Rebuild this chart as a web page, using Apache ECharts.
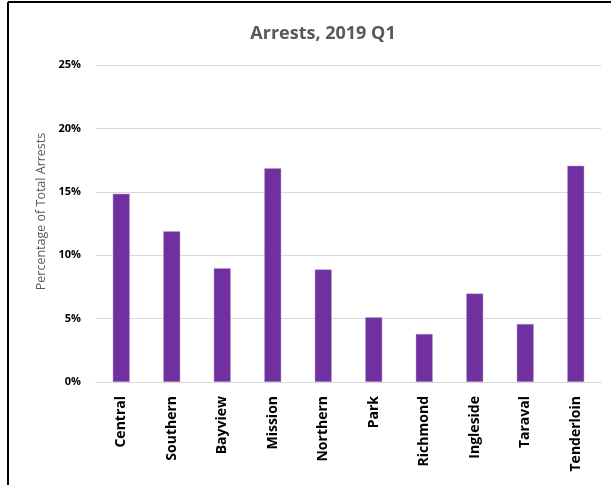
<!DOCTYPE html>
<html>
<head>
<meta charset="utf-8">
<script src="https://cdn.jsdelivr.net/npm/echarts@6/dist/echarts.min.js"></script>
<style>html,body{margin:0;padding:0;background:#fff;}#c{width:611px;height:485px;}</style>
</head>
<body>
<div id="c"></div>
<script>
var categories = ["Central","Southern","Bayview","Mission","Northern","Park","Richmond","Ingleside","Taraval","Tenderloin"];
var arrestsPct = [14.85, 11.88, 8.98, 16.86, 8.88, 5.11, 3.79, 6.98, 4.58, 17.06];
var titleText = "Arrests, 2019 Q1";
var yAxisName = "Percentage of Total Arrests";

var chart = echarts.init(document.getElementById('c'));
chart.setOption({
  animation: false,
  backgroundColor: '#fff',
  title: {
    text: titleText,
    left: 318, textAlign: 'center', top: 20,
    textStyle: {fontFamily: 'Open Sans', fontWeight: 'bold', fontSize: 18, color: '#595959'}
  },
  grid: {left: 96, right: 10, top: 65, bottom: 103, containLabel: false},
  xAxis: {
    type: 'category', data: categories,
    axisLine: {lineStyle: {color: '#d9d9d9', width: 1}},
    axisTick: {show: false},
    axisLabel: {rotate: 90, margin: 14, color: '#000', fontFamily: 'Open Sans', fontWeight: 'bold', fontSize: 14}
  },
  yAxis: {
    type: 'value', min: 0, max: 25, interval: 5,
    name: yAxisName, nameLocation: 'middle', nameGap: 48,
    nameTextStyle: {color: '#595959', fontFamily: 'Open Sans', fontSize: 12.5, padding: [0, 0, 0, 24]},
    axisLine: {show: false}, axisTick: {show: false},
    axisLabel: {formatter: '{value}%', color: '#000', fontFamily: 'Open Sans', fontWeight: 'bold', fontSize: 11, margin: 15},
    splitLine: {lineStyle: {color: '#d9d9d9', width: 1}}
  },
  series: [{
    type: 'bar', data: arrestsPct, barWidth: 17,
    itemStyle: {color: '#7030A0', borderColor: '#b9a0cf', borderWidth: 0.5}
  }],
  graphic: [
    {type: 'line', shape: {x1: 8, y1: 2, x2: 611, y2: 2}, style: {stroke: '#000', lineWidth: 2}},
    {type: 'line', shape: {x1: 8, y1: 2, x2: 8, y2: 485}, style: {stroke: '#000', lineWidth: 2}}
  ]
});
</script>
</body>
</html>
